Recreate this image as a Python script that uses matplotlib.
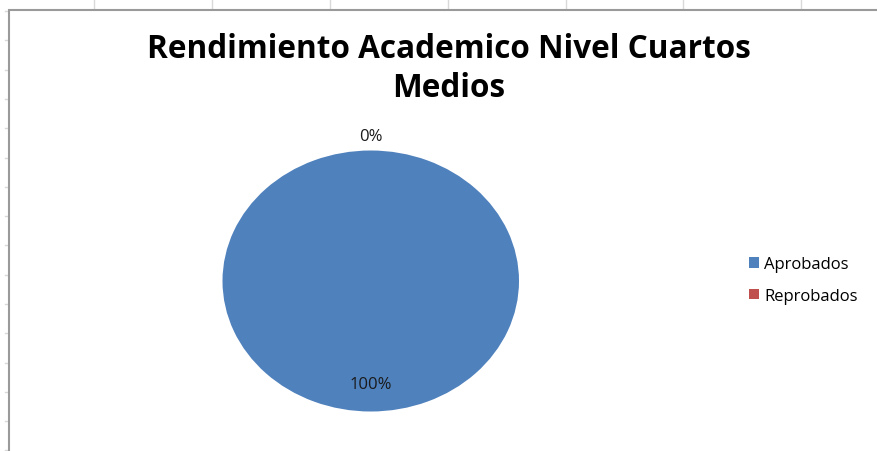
import numpy as np
import matplotlib
matplotlib.use('Agg')
import matplotlib.pyplot as plt
from matplotlib.lines import Line2D
from matplotlib.patches import Rectangle, Patch

categories = ['Aprobados', 'Reprobados']
values = [100, 0]
colors = ['#4F81BD', '#C0504D']
title = 'Rendimiento Academico Nivel Cuartos\nMedios'

W, H = 878, 452
fig = plt.figure(figsize=(W / 100, H / 100), dpi=100)
fig.patch.set_facecolor('white')


def fx(px):
    return px / W


def fy(py):
    return 1 - py / H


# spreadsheet grid peeking out around the chart frame
for x in np.arange(94.5, W, 117.8):
    fig.add_artist(Line2D([fx(x), fx(x)], [fy(0), fy(11)], color='#d9d9d9', lw=1, zorder=-3))
for y in np.arange(12, H, 29.3):
    fig.add_artist(Line2D([fx(5), fx(9)], [fy(y), fy(y)], color='#d9d9d9', lw=1, zorder=-3))

# chart frame
fig.add_artist(Rectangle((fx(9.5), fy(H + 10)), fx(W + 20), fy(11) - fy(H + 10),
                         transform=fig.transFigure, facecolor='white',
                         edgecolor='#9a9a9a', lw=1.5, zorder=-2))

fig.text(fx(449), fy(97), title, ha='center', va='baseline', fontsize=22.7,
         fontweight='bold', family='Open Sans', linespacing=1.25)

# pie axes placed on the ellipse bounding box
ax = fig.add_axes([fx(222.5), fy(412.5), fx(296.5), fy(151.5) - fy(412.5)])
wedges, texts, autotexts = ax.pie(values, colors=colors, startangle=90,
                                  counterclock=False, autopct='%1.0f%%',
                                  pctdistance=0.79,
                                  textprops={'fontsize': 12, 'family': 'Open Sans',
                                             'color': '#1a1a1a'})
ax.set_aspect('auto')
ax.set_xlim(-1, 1)
ax.set_ylim(-1, 1)
for v, t in zip(values, autotexts):
    if v == 0:
        x, y = t.get_position()
        t.set_position((x / 0.79 * 1.11, y / 0.79 * 1.11))

handles = [Patch(facecolor=c, edgecolor='none') for c in colors]
fig.legend(handles, categories, loc='center left',
           bbox_to_anchor=(fx(734), fy(281)), frameon=False,
           prop={'family': 'Open Sans', 'size': 12}, handlelength=0.6,
           handleheight=0.6, handletextpad=0.3, labelspacing=0.95)

fig.savefig('out.png', dpi=100)
